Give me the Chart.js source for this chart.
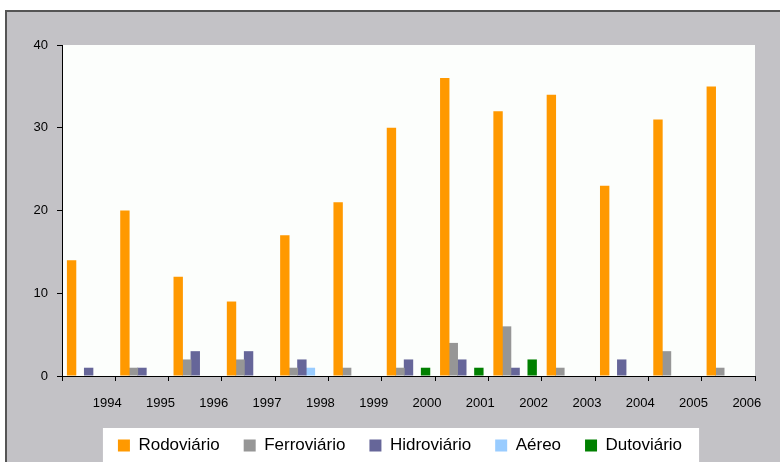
<!DOCTYPE html>
<html lang="pt">
<head>
  <meta charset="UTF-8">
  <title>Transporte por modal</title>
  <script src="https://cdn.jsdelivr.net/npm/chart.js"></script>
  <style>
    body {
      margin: 0;
      background: white;
      font-family: "Liberation Sans", Arial, sans-serif;
    }
    #wrap {
      position: relative;
      width: 780px;
      height: 462px;
      overflow: hidden;
    }
    #frame {
      position: absolute;
      left: 5px;
      top: 10px;
      right: -10px;
      bottom: -10px;
      background: #c3c2c6;
      border-left: 2px solid #555;
      border-top: 2px solid #555;
    }
    #chart {
      position: absolute;
      left: 0;
      top: 0;
    }
  </style>
</head>
<body>

<div id="wrap">
  <div id="frame"></div>
  <canvas id="chart" width="780" height="462"></canvas>
</div>

<script>
  // anos e valores
  const years = ["1994", "1995", "1996", "1997", "1998", "1999", "2000",
                 "2001", "2002", "2003", "2004", "2005", "2006"];
  const rodoviario  = [14, 20, 12, 9, 17, 21, 30, 36, 32, 34, 23, 31, 35];
  const ferroviario = [0, 1, 2, 2, 1, 1, 1, 4, 6, 1, 0, 3, 1];
  const hidroviario = [1, 1, 3, 3, 2, 0, 2, 2, 1, 0, 2, 0, 0];
  const aereo       = [0, 0, 0, 0, 1, 0, 0, 0, 0, 0, 0, 0, 0];
  const dutoviario  = [0, 0, 0, 0, 0, 0, 1, 1, 2, 0, 0, 0, 0];
  const yTicks = [0, 10, 20, 30, 40];

  Chart.defaults.font.family = '"Liberation Sans", Arial, sans-serif';

  // fundo branco da área do gráfico
  const plotBackground = {
    id: "plotBackground",
    beforeDraw(chart) {
      const { ctx, chartArea: a } = chart;
      ctx.save();
      ctx.fillStyle = "#fcfefc";
      ctx.fillRect(a.left, a.top, a.right - a.left, a.bottom - a.top);
      ctx.restore();
    }
  };

  // desloca um pouco a legenda (centrada como no original)
  const legendShift = {
    id: "legendShift",
    afterLayout(chart) {
      const lg = chart.legend;
      if (!lg) return;
      lg.left += 7.5;
      lg.right += 7.5;
      lg.top += 2;
      lg.bottom += 2;
    }
  };

  // caixa branca atrás da legenda
  const legendBox = {
    id: "legendBox",
    beforeDraw(chart) {
      const boxes = chart.legend && chart.legend.legendHitBoxes;
      if (!boxes || !boxes.length) return;
      const first = boxes[0];
      const last = boxes[boxes.length - 1];
      const ctx = chart.ctx;
      ctx.save();
      ctx.fillStyle = "#ffffff";
      ctx.fillRect(first.left - 15, first.top - 9,
                   last.left + last.width - first.left + 32, chart.height);
      ctx.restore();
    }
  };

  const ctx = document.getElementById("chart").getContext("2d");
  new Chart(ctx, {
    type: "bar",
    data: {
      labels: years,
      datasets: [
        { label: "Rodoviário", data: rodoviario, backgroundColor: "#ff9900" },
        { label: "Ferroviário", data: ferroviario, backgroundColor: "#969696" },
        { label: "Hidroviário", data: hidroviario, backgroundColor: "#666699" },
        { label: "Aéreo", data: aereo, backgroundColor: "#99ccff" },
        { label: "Dutoviário", data: dutoviario, backgroundColor: "#008000" }
      ]
    },
    options: {
      responsive: false,
      animation: false,
      layout: { padding: { left: 30, right: 25, top: 45, bottom: 0 } },
      datasets: {
        bar: { categoryPercentage: 0.8, barPercentage: 1.1, borderWidth: 0 }
      },
      plugins: {
        legend: {
          position: "bottom",
          labels: {
            boxWidth: 12,
            boxHeight: 12,
            padding: 24,
            color: "#000",
            font: { size: 17 }
          }
        },
        tooltip: { enabled: false }
      },
      scales: {
        x: {
          offset: true,
          grid: { offset: true, drawOnChartArea: false, tickLength: 5, color: "#000" },
          border: { color: "#000", width: 1 },
          ticks: {
            color: "#000",
            font: { size: 13 },
            labelOffset: 18.5,
            padding: 15,
            maxRotation: 0,
            autoSkip: false
          },
          afterFit(scale) { scale.height = 35; }
        },
        y: {
          min: yTicks[0],
          max: yTicks[yTicks.length - 1],
          grid: { drawOnChartArea: false, tickLength: 5, color: "#000" },
          border: { color: "#000", width: 1 },
          ticks: { stepSize: 10, color: "#000", font: { size: 13 }, padding: 9 },
          afterFit(scale) { scale.width = 32; }
        }
      }
    },
    plugins: [plotBackground, legendShift, legendBox]
  });
</script>

</body>
</html>
